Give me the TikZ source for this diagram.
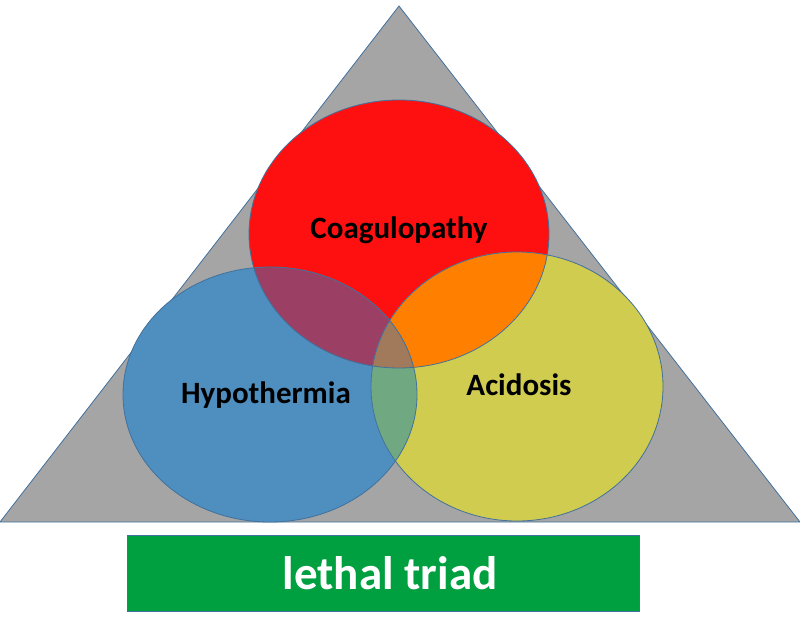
\documentclass[tikz,border=0pt]{standalone}
\usepackage{fontspec}
\setmainfont{Carlito}
\definecolor{tri}{HTML}{A5A5A5}
\definecolor{edge}{HTML}{41719C}
\definecolor{cred}{HTML}{FF1010}
\definecolor{cblue}{HTML}{4E8FC0}
\definecolor{cyel}{HTML}{D0CC50}
\definecolor{cpur}{HTML}{9B4064}
\definecolor{corg}{HTML}{FF8000}
\definecolor{cgrn}{HTML}{70A882}
\definecolor{cmid}{HTML}{A07A5A}
\definecolor{cbox}{HTML}{00A040}
\begin{document}
\begin{tikzpicture}[x=1pt,y=-1pt,
  outline/.style={draw=edge,line width=0.8pt},
  lab/.style={font=\bfseries\fontsize{31}{36}\selectfont,text=black}]
\useasboundingbox (0,0) rectangle (800,624);
% triangle
\coordinate (apex) at (399,6);
\coordinate (bl) at (0,522);
\coordinate (br) at (800,522);
\filldraw[fill=tri,outline] (apex) -- (br) -- (bl) -- cycle;
% ellipse definitions
\def\redE{(399,234) ellipse [x radius=150, y radius=134]}
\def\blueE{(270,394.5) ellipse [x radius=147, y radius=127.5]}
\def\yelE{(517,386.5) ellipse [x radius=146, y radius=134.5]}
\fill[cred] \redE;
\fill[cblue] \blueE;
\fill[cyel] \yelE;
\begin{scope}
  \clip \redE;
  \fill[cpur] \blueE;
  \fill[corg] \yelE;
\end{scope}
\begin{scope}
  \clip \blueE;
  \fill[cgrn] \yelE;
\end{scope}
\begin{scope}
  \clip \redE;
  \clip \blueE;
  \fill[cmid] \yelE;
\end{scope}
\draw[outline] \redE;
\draw[outline] \blueE;
\draw[outline] \yelE;
% labels
\node[lab] (coag) at (399,230) {Coagulopathy};
\node[lab] (hypo) at (266,395) {Hypothermia};
\node[lab] (acid) at (519,385) {Acidosis};
% bottom box
\node[draw=edge,line width=0.8pt,fill=cbox,minimum width=512pt,minimum height=76pt,inner sep=0pt] (triad) at (383.5,573) {};
\node[text=white,font=\bfseries\fontsize{47}{54}\selectfont,inner sep=0pt] (triadtext) at (390,573) {lethal triad};
\end{tikzpicture}
\end{document}
